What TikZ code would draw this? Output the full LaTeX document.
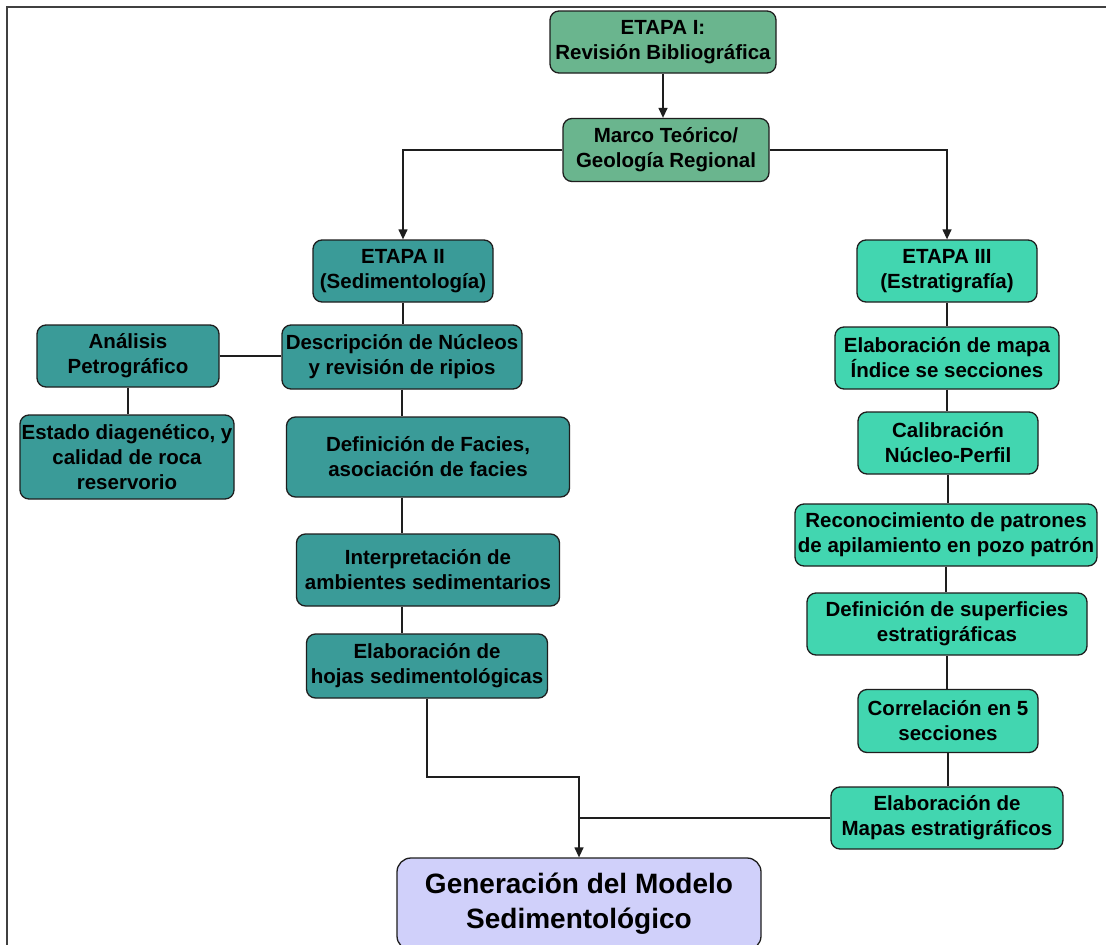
\documentclass[tikz,border=0pt]{standalone}
\usepackage{fontspec}
\setmainfont{Liberation Sans}
\usetikzlibrary{arrows.meta}
\definecolor{cgreen}{RGB}{106,181,142}
\definecolor{cteal}{RGB}{58,155,152}
\definecolor{caqua}{RGB}{66,214,176}
\definecolor{clav}{RGB}{208,208,250}
\definecolor{cline}{RGB}{30,30,30}
\tikzset{
  box/.style={draw=cline, line width=1.3pt, rounded corners=9pt, align=center, inner sep=0pt,
    font=\fontsize{20.5}{25}\selectfont\bfseries, text=black},
  sz/.style 2 args={minimum width=#1pt, minimum height=#2pt},
  gbox/.style={box, fill=cgreen},
  tbox/.style={box, fill=cteal},
  abox/.style={box, fill=caqua},
  fbox/.style={box, fill=clav, rounded corners=14pt, font=\fontsize{28}{35}\selectfont\bfseries},
  conn/.style={line width=1.3pt, draw=cline},
  arr/.style={conn, -{Triangle[length=10pt,width=9pt]}},
}
\begin{document}
\begin{tikzpicture}[x=1pt,y=-1pt]
\clip (0,0) rectangle (1106,945);
\fill[white] (0,0) rectangle (1106,945);
\draw[line width=2pt, color=black!75] (1106,7) -- (7,7) -- (7,945);

\node[gbox, sz={226}{62}] (e1) at (663,42) {ETAPA I:\\Revisión Bibliográfica};
\node[gbox, sz={206}{63}] (marco) at (666,150) {Marco Teórico/\\Geología Regional};

\node[tbox, sz={180}{62}] (e2) at (403,271) {ETAPA II\\(Sedimentología)};
\node[tbox, sz={240}{64}] (desc) at (402,357) {Descripción de Núcleos\\y revisión de ripios};
\node[tbox, sz={182}{62}] (anal) at (128,356) {Análisis\\Petrográfico};
\node[tbox, sz={214}{84}] (estado) at (127,457) {Estado diagenético, y\\calidad de roca\\reservorio};
\node[tbox, sz={283}{80}] (facies) at (428,457) {Definición de Facies,\\asociación de facies};
\node[tbox, sz={263}{72}] (interp) at (428,570) {Interpretación de\\ambientes sedimentarios};
\node[tbox, sz={241}{64}] (hojas) at (427,666) {Elaboración de\\hojas sedimentológicas};

\node[abox, sz={180}{62}] (e3) at (947,271) {ETAPA III\\(Estratigrafía)};
\node[abox, sz={224}{62}] (mapa) at (947,358) {Elaboración de mapa\\Índice se secciones};
\node[abox, sz={180}{62}] (calib) at (948,443) {Calibración\\Núcleo-Perfil};
\node[abox, sz={302}{62}] (recon) at (946,535) {Reconocimiento de patrones\\de apilamiento en pozo patrón};
\node[abox, sz={280}{62}] (superf) at (947,624) {Definición de superficies\\estratigráficas};
\node[abox, sz={180}{63}] (correl) at (948,721) {Correlación en 5\\secciones};
\node[abox, sz={232}{62}] (mapas) at (947,818) {Elaboración de\\Mapas estratigráficos};

\node[fbox, sz={364}{92}] (final) at (579,904) {Generación del Modelo\\Sedimentológico};

% connectors
\draw[arr] (e1.south) -- (e1.south |- marco.north);
\draw[arr] (marco.west) -| (e2.north);
\draw[arr] (marco.east) -| (e3.north);

\draw[conn] (e2.south) -- (e2.south |- desc.north);
\draw[conn] (anal.east) -- (anal.east -| desc.west);
\draw[conn] (anal.south) -- (anal.south |- estado.north);
\draw[conn] (desc.south) -- (desc.south |- facies.north);
\draw[conn] (facies.south -| desc.south) -- (interp.north -| desc.south);
\draw[conn] (interp.south -| desc.south) -- (hojas.north -| desc.south);

\coordinate (j) at (final.north |- 0,777);
\draw[arr] (hojas.south) |- (j) -- (final.north);
\draw[conn] (mapas.west) -- (mapas.west -| final.north);

\draw[conn] (e3.south) -- (e3.south |- mapa.north);
\draw[conn] (mapa.south) -- (mapa.south |- calib.north);
\draw[conn] (calib.south) -- (calib.south |- recon.north);
\draw[conn] (recon.south) -- (recon.south |- superf.north);
\draw[conn] (superf.south) -- (superf.south |- correl.north);
\draw[conn] (correl.south) -- (correl.south |- mapas.north);
\end{tikzpicture}
\end{document}
